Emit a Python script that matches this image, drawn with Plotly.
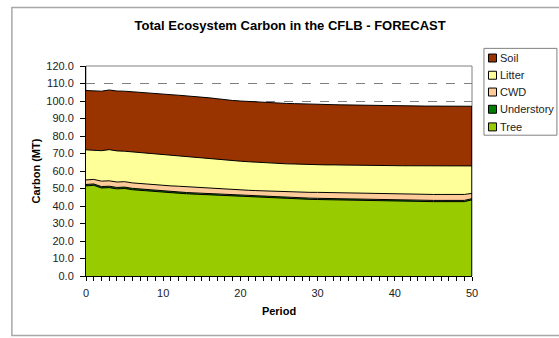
import plotly.graph_objects as go

periods = list(range(0, 51))

tree = [51.5, 51.8, 50.3, 50.5, 49.8, 50.0, 49.3, 48.9, 48.5, 48.1,
        47.8, 47.5, 47.3, 47.0, 46.8, 46.6, 46.4, 46.0, 45.7, 45.5,
        45.2, 45.0, 44.8, 44.6, 44.4, 44.2, 44.1, 44.0, 43.9, 43.8,
        43.7, 43.6, 43.5, 43.4, 43.3, 43.2, 43.0, 42.9, 42.8, 42.8,
        42.7, 42.7, 42.6, 42.6, 42.6, 42.5, 42.5, 42.4, 42.4, 42.5, 43.5]

understory = [0.8, 0.8, 0.8, 0.8, 0.8, 0.8, 0.8, 0.8, 0.8, 0.8,
              0.7, 0.7, 0.7, 0.7, 0.7, 0.7, 0.7, 0.7, 0.7, 0.7,
              0.7, 0.7, 0.7, 0.7, 0.7, 0.7, 0.7, 0.7, 0.7, 0.7,
              0.7, 0.7, 0.7, 0.7, 0.7, 0.7, 0.7, 0.7, 0.7, 0.7,
              0.7, 0.7, 0.7, 0.7, 0.7, 0.7, 0.7, 0.7, 0.7, 0.7, 0.7]

cwd = [2.6, 2.6, 3.1, 3.1, 3.1, 3.1, 3.1, 3.1, 3.1, 3.1,
       3.3, 3.3, 3.3, 3.3, 3.3, 3.3, 3.3, 3.3, 3.3, 3.3,
       3.3, 3.3, 3.3, 3.3, 3.3, 3.3, 3.3, 3.3, 3.3, 3.3,
       3.4, 3.4, 3.4, 3.4, 3.4, 3.4, 3.4, 3.4, 3.4, 3.4,
       3.4, 3.4, 3.4, 3.4, 3.4, 3.4, 3.4, 3.4, 3.4, 3.4, 3.0]

litter = [17.2, 16.8, 17.4, 17.8, 17.8, 17.4, 17.7, 17.7, 17.6, 17.6,
          17.4, 17.4, 17.3, 17.3, 17.2, 17.0, 16.8, 16.8, 16.7, 16.5,
          16.4, 16.3, 16.2, 16.1, 16.1, 16.1, 16.0, 16.0, 15.9, 15.9,
          15.8, 15.8, 15.9, 15.9, 16.0, 16.0, 16.2, 16.2, 16.3, 16.2,
          16.3, 16.2, 16.3, 16.3, 16.3, 16.4, 16.3, 16.4, 16.4, 16.3, 15.7]

soil = [33.9, 33.8, 34.0, 34.1, 34.2, 34.3, 34.3, 34.3, 34.6, 34.6,
        34.7, 34.7, 34.7, 34.7, 34.6, 34.6, 34.6, 34.5, 34.3, 34.3,
        34.4, 34.4, 34.4, 34.5, 34.5, 34.5, 34.5, 34.5, 34.5, 34.5,
        34.5, 34.5, 34.4, 34.4, 34.3, 34.3, 34.2, 34.2, 34.2, 34.2,
        34.2, 34.2, 34.2, 34.1, 34.1, 34.1, 34.1, 34.1, 34.1, 34.1, 34.1]

series_names = ["Tree", "Understory", "CWD", "Litter", "Soil"]
series_values = [tree, understory, cwd, litter, soil]
series_colors = ["#99CC00", "#008000", "#FFCC99", "#FFFF99", "#993300"]

y_ticks = [0, 10, 20, 30, 40, 50, 60, 70, 80, 90, 100, 110, 120]
y_tick_text = [f"{v:.1f}" for v in y_ticks]
x_ticks = [0, 10, 20, 30, 40, 50]

fig = go.Figure()
for name, vals, color in zip(series_names, series_values, series_colors):
    fig.add_trace(go.Scatter(
        x=periods, y=vals, name=name, mode="lines",
        stackgroup="carbon", fillcolor=color, showlegend=False,
        line=dict(color="#000000", width=1),
    ))

# closing edge of the stacked areas at the last period
total_last = sum(vals[-1] for vals in series_values)
fig.add_shape(type="line", xref="x", yref="y",
              x0=periods[-1], x1=periods[-1], y0=0, y1=total_last,
              line=dict(color="#000000", width=1.5))

# plot-area frame
fig.add_shape(type="rect", xref="paper", yref="paper",
              x0=0, x1=1, y0=0, y1=1, layer="below",
              line=dict(color="#808080", width=1))
# chart frame
fig.add_shape(type="rect", xref="paper", yref="paper",
              x0=-0.192, x1=1.24, y0=-0.283, y1=1.279,
              line=dict(color="#A8A8A8", width=1.5))

# legend box with small square swatches, top entry = top of the stack
fig.add_shape(type="rect", xref="paper", yref="paper",
              x0=1.031, x1=1.220, y0=0.6705, y1=1.084,
              line=dict(color="#808080", width=1), fillcolor="white")
row_y = [1.038, 0.956, 0.876, 0.794, 0.710]
half = 0.019
for ry, name, color in zip(row_y, series_names[::-1], series_colors[::-1]):
    fig.add_shape(type="rect", xref="paper", yref="paper",
                  x0=1.0427, x1=1.0635, y0=ry - half, y1=ry + half,
                  line=dict(color="#000000", width=1), fillcolor=color)
    fig.add_annotation(xref="paper", yref="paper", x=1.067, y=ry,
                       xanchor="left", yanchor="middle", showarrow=False,
                       text=name, font=dict(size=11, color="#222222"))

font = "Liberation Sans, Arial, sans-serif"

fig.update_layout(
    width=559, height=338,
    margin=dict(l=86, r=87, t=66, b=62, autoexpand=False),
    paper_bgcolor="white", plot_bgcolor="white",
    font=dict(family=font, size=11, color="#222222"),
    title=dict(text="<b>Total Ecosystem Carbon in the CFLB - FORECAST</b>",
               x=0.519, xanchor="center", y=0.926, yanchor="middle",
               yref="container", font=dict(size=13, color="#000000")),
    showlegend=False,
    xaxis=dict(range=[0, 50], tickvals=x_ticks, ticks="outside", ticklen=4,
               tickcolor="#000000", showline=True, linecolor="#000000",
               linewidth=1, showgrid=False, zeroline=False,
               ticklabelstandoff=3,
               minor=dict(dtick=1, ticks="outside", ticklen=4, tickcolor="#000000"),
               title=dict(text="<b>Period</b>", standoff=9,
                          font=dict(size=11, color="#000000"))),
    yaxis=dict(range=[0, 120], tickvals=y_ticks, ticktext=y_tick_text,
               ticks="outside", ticklen=5, tickcolor="#000000",
               showline=True, linecolor="#000000", linewidth=1,
               showgrid=True, gridcolor="#808080", griddash="dash",
               gridwidth=1, zeroline=False, ticklabelstandoff=4,
               title=dict(text="<b>Carbon (MT)</b>", standoff=3,
                          font=dict(size=11, color="#000000"))),
)

fig.write_html("out.html")
